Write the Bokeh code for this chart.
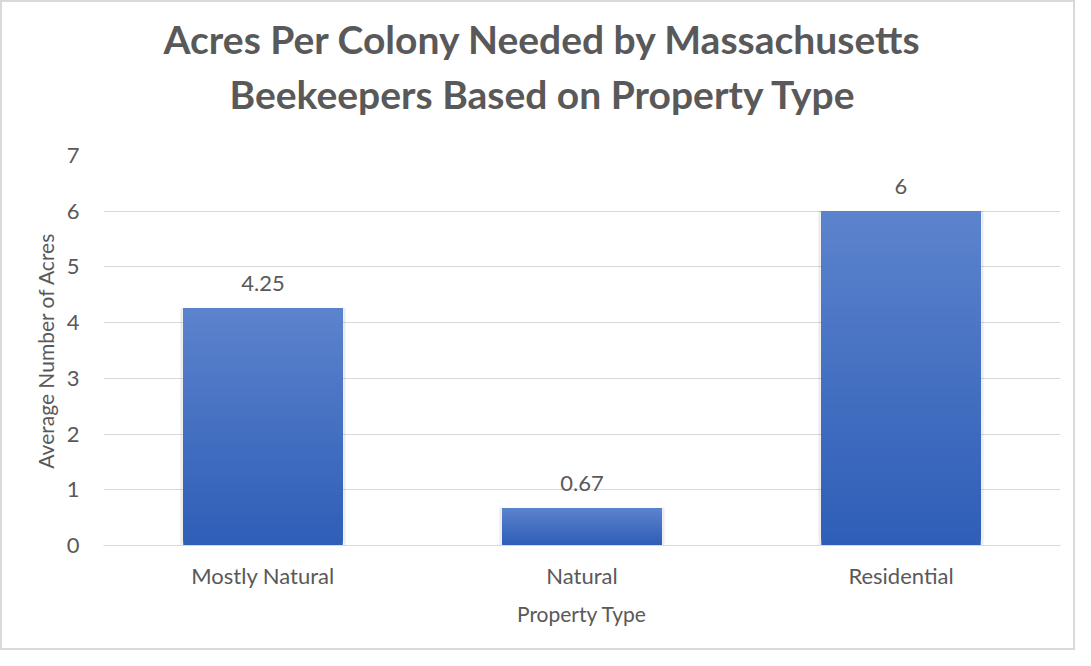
from bokeh.plotting import figure
from bokeh.models import Range1d, FactorRange, Title, FixedTicker
from bokeh.core.properties import value
from bokeh.embed import file_html
from bokeh.resources import INLINE

categories = ["Mostly Natural", "Natural", "Residential"]
acres = [4.25, 0.67, 6]
labels = ["4.25", "0.67", "6"]
y_ticks = [0, 1, 2, 3, 4, 5, 6, 7]

FONT = "Lato"
GRAY = "#595959"

p = figure(width=1075, height=650, output_backend="svg", toolbar_location=None,
           x_range=FactorRange(*categories, range_padding=0), y_range=Range1d(0, 7),
           min_border_left=101, min_border_right=17, min_border_top=153, min_border_bottom=107)
p.x_range.factor_padding = 0
p.outline_line_color = None
p.styles = {"border": "2px solid #d9d9d9", "box-sizing": "border-box"}

# gradient bars built from overlapping strips (each strip runs to the bar top)
top_c = (0x5c, 0x83, 0xcd)
bot_c = (0x2e, 0x5e, 0xb7)
N = 80
xs, bs, ts, cs = [], [], [], []
for c, v in zip(categories, acres):
    for k in range(N):
        f0 = k / N
        t = (k + 0.5) / N
        col = tuple(int(round(bot_c[j] + (top_c[j] - bot_c[j]) * t)) for j in range(3))
        xs.append(c)
        bs.append(v * f0)
        ts.append(v)
        cs.append("#%02x%02x%02x" % col)

# soft shadow
p.vbar(x=categories, top=acres, bottom=-0.03, width=0.515, color="black", alpha=0.06)
p.vbar(x=xs, bottom=bs, top=ts, width=0.5, color=cs, line_width=0)

p.text(x=categories, y=acres, text=labels, text_align="center", text_baseline="middle",
       y_offset=-25, text_font=value(FONT), text_font_size="22px", text_color=GRAY)

p.yaxis.ticker = FixedTicker(ticks=y_ticks)
p.ygrid.grid_line_color = "#d9d9d9"
p.ygrid.grid_line_width = 1
p.xgrid.grid_line_color = None
p.yaxis.axis_line_color = None
p.yaxis.major_tick_line_color = None
p.yaxis.minor_tick_line_color = None
p.xaxis.axis_line_color = "#d9d9d9"
p.xaxis.major_tick_line_color = None
p.xaxis.minor_tick_line_color = None

for ax in (p.xaxis, p.yaxis):
    ax.major_label_text_font = FONT
    ax.major_label_text_font_size = "22px"
    ax.major_label_text_color = GRAY
    ax.axis_label_text_font = FONT
    ax.axis_label_text_font_size = "21px"
    ax.axis_label_text_color = GRAY
    ax.axis_label_text_font_style = "normal"

p.yaxis.axis_label = "Average Number of Acres"
p.yaxis.major_label_standoff = 18
p.yaxis.axis_label_standoff = 6
p.xaxis.axis_label = "Property Type"
p.xaxis.major_label_standoff = 10
p.xaxis.axis_label_standoff = 9

spacer = Title(text=" ", align="left", text_font_size="2px", standoff=35)
t2 = Title(text="Beekeepers Based on Property Type", align="left", offset=126,
           text_font=FONT, text_font_size="39px", text_font_style="bold", text_color=GRAY,
           standoff=0)
t1 = Title(text="Acres Per Colony Needed by Massachusetts", align="left", offset=60,
           text_font=FONT, text_font_size="39px", text_font_style="bold", text_color=GRAY,
           standoff=13)
p.add_layout(spacer, "above")
p.add_layout(t2, "above")
p.add_layout(t1, "above")

open("out.html", "w").write(file_html(p, INLINE))
